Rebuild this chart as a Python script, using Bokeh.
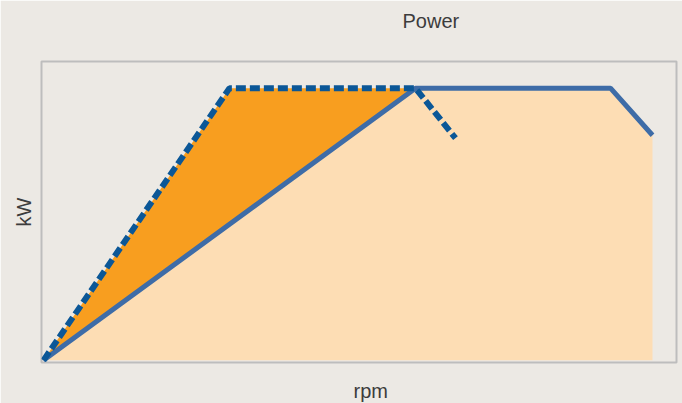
from bokeh.plotting import figure
from bokeh.models import Range1d, Title
from bokeh.embed import file_html
from bokeh.resources import INLINE

# Data
rpm_full = [0, 3720, 5670, 6090]
kw_full = [0, 100, 100, 82.7]
rpm_boost = [0, 1860, 3720, 4120]
kw_boost = [0, 100, 100, 81.6]

title_text = "Power"
x_label = "rpm"
y_label = "kW"

BG = "#ECE9E4"
TXT = "#3C3C3C"
font = "Liberation Sans"

p = figure(width=682, height=403, output_backend="svg", toolbar_location=None,
           x_range=Range1d(-20, 6330), y_range=Range1d(-0.8, 109.8),
           min_border_left=41, min_border_right=6, min_border_top=61, min_border_bottom=41)
p.background_fill_color = BG
p.border_fill_color = BG
p.outline_line_color = "#BDBDBD"
p.outline_line_width = 2
p.xaxis.visible = False
p.yaxis.visible = False
p.xgrid.visible = False
p.ygrid.visible = False

# spacers (blank titles) to push the real titles away from the frame
p.add_layout(Title(text=" ", text_font_size="1px", standoff=27), "above")
p.add_layout(Title(text=" ", text_font_size="1px", standoff=12), "below")

p.title.text = title_text
p.title.align = "left"
p.title.offset = 361
p.title.standoff = 0
p.title.text_font = font
p.title.text_font_size = "20px"
p.title.text_font_style = "normal"
p.title.text_color = TXT

p.add_layout(Title(text=x_label, align="left", offset=312, standoff=0, text_font=font,
                   text_font_size="20px", text_font_style="normal", text_color=TXT), "below")
p.add_layout(Title(text=y_label, align="center", standoff=13, text_font=font,
                   text_font_size="20px", text_font_style="normal", text_color=TXT), "left")

# light fill under the solid curve
p.varea(x=rpm_full, y1=[0] * len(rpm_full), y2=kw_full, fill_color="#FDDDB4")
# dark fill between dashed and solid curves
gap_x = rpm_boost[:3] + [rpm_full[1], rpm_full[0]]
gap_y = kw_boost[:3] + [kw_full[1], kw_full[0]]
p.patch(gap_x, gap_y, fill_color="#F89E1F", line_color=None)

p.line(rpm_full, kw_full, line_color="#3E6CA7", line_width=5)
p.line(rpm_boost, kw_boost, line_color="#0B5797", line_width=6, line_dash="10 4")

open("out.html", "w").write(file_html(p, INLINE))
